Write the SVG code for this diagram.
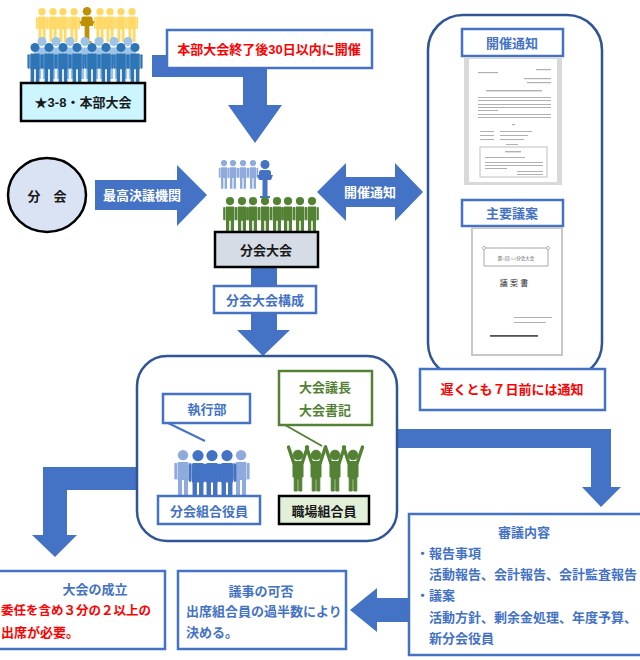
<svg xmlns="http://www.w3.org/2000/svg" xmlns:xlink="http://www.w3.org/1999/xlink" width="640" height="660" viewBox="0 0 640 660">
  <style>
    text { font-family: "Liberation Sans", "Noto Sans CJK JP", sans-serif; font-weight: bold; font-size: 13px; }
    .c { text-anchor: middle; dominant-baseline: central; }
    .l { dominant-baseline: central; }
    .blue { fill: #4472C4; }
    .red { fill: #FF0000; }
    .green { fill: #548235; }
    .dark { fill: #1A1A1A; }
    .white { fill: #FFFFFF; }
    .arrow { fill: #4472C4; }
    .frame { fill: #FFFFFF; stroke: #2F5597; stroke-width: 2.5; }
    .tag { fill: #FFFFFF; stroke: #4472C4; stroke-width: 2.5; }
    .tagg { fill: #FFFFFF; stroke: #548235; stroke-width: 2.5; }
    .base { stroke: #000000; stroke-width: 2.5; }
    .ln { fill: #B0B0B0; }
  </style>
  <defs>
    <!-- standing figure, origin at top centre, 40 units tall -->
    <g id="person">
      <circle cx="0" cy="4.3" r="4.3"/>
      <path d="M-3.6,10 H3.6 Q4.6,10 4.6,11.2 V25 H-4.6 V11.2 Q-4.6,10 -3.6,10 Z"/>
      <rect x="-7.2" y="10.6" width="2.2" height="14" rx="1.1"/>
      <rect x="5" y="10.6" width="2.2" height="14" rx="1.1"/>
      <rect x="-4.2" y="23" width="3.4" height="17" rx="0.8"/>
      <rect x="0.8" y="23" width="3.4" height="17" rx="0.8"/>
    </g>
    <!-- figure with both arms raised -->
    <g id="cheer">
      <circle cx="0" cy="10" r="4.8"/>
      <path d="M-5,18.5 Q-5,16.5 -3,16.5 H3 Q5,16.5 5,18.5 V32 H3.8 V46 H0.8 V34 H-0.8 V46 H-3.8 V32 H-5 Z"/>
      <path d="M-4.2,18 L-9.5,2 M4.2,18 L9.5,2" stroke-width="3.4" stroke-linecap="round" fill="none"/>
    </g>
    <!-- speaker at a lectern -->
    <g id="speaker">
      <circle cx="0" cy="4.5" r="4.5"/>
      <path d="M-6,12.5 Q-6,10 -3.5,10 H3.5 Q6,10 6,12.5 V16 H-6 Z"/>
      <path d="M-8,15 H8 L6,20 H2.5 V36 H5 V38 H-5 V36 H-2.5 V20 H-6 Z"/>
    </g>
  </defs>

  <!-- connectors -->
  <g id="connectors">
    <!-- head office meeting down to branch meeting -->
    <path class="arrow" d="M152,55 H267 V105 H282 L255,143 L228,105 H243 V77 H152 Z"/>
    <!-- branch to branch meeting -->
    <path class="arrow" d="M95,180 H177 V165 L207,195 L177,226 V210 H95 Z"/>
    <!-- notice both ways -->
    <path class="arrow" d="M317,192 L346,163 V177 H395 V163 L423,192 L395,221 V207 H346 V221 Z"/>
    <!-- branch meeting down to members -->
    <path class="arrow" d="M251,266 H277 V330 H290 L263,356 L237,330 H251 Z"/>
    <!-- members to quorum -->
    <path class="arrow" d="M137,467 V490 H67 V535 H77 L55,557 L32,535 H43 V467 Z"/>
    <!-- members to agenda -->
    <path class="arrow" d="M397,429 H611 V487 H621 L601,507 L582,487 H591 V448 H397 Z"/>
    <!-- agenda to resolution -->
    <path class="arrow" d="M409,598 V622 H377 V632 L350,610 L377,588 V598 Z"/>
  </g>

  <!-- head office meeting crowd -->
  <g id="head-office">
    <g fill="#FFD966">
      <use xlink:href="#person" transform="translate(42,8) scale(0.85)"/>
      <use xlink:href="#person" transform="translate(53,8) scale(0.85)"/>
      <use xlink:href="#person" transform="translate(63,8) scale(0.85)"/>
      <use xlink:href="#person" transform="translate(74,8) scale(0.85)"/>
      <use xlink:href="#person" transform="translate(100,8) scale(0.85)"/>
      <use xlink:href="#person" transform="translate(110,8) scale(0.85)"/>
      <use xlink:href="#person" transform="translate(121,8) scale(0.85)"/>
      <use xlink:href="#person" transform="translate(132,8) scale(0.85)"/>
    </g>
    <use xlink:href="#speaker" fill="#BF9000" transform="translate(87,7) scale(0.95)"/>
    <g fill="#9DC3E6">
      <use xlink:href="#person" transform="translate(42,37) scale(1.05)"/>
      <use xlink:href="#person" transform="translate(56,37) scale(1.05)"/>
      <use xlink:href="#person" transform="translate(70,37) scale(1.05)"/>
      <use xlink:href="#person" transform="translate(85,37) scale(1.05)"/>
      <use xlink:href="#person" transform="translate(99,37) scale(1.05)"/>
      <use xlink:href="#person" transform="translate(114,37) scale(1.05)"/>
      <use xlink:href="#person" transform="translate(128,37) scale(1.05)"/>
    </g>
    <g fill="#2E75B6">
      <use xlink:href="#person" transform="translate(35,43) scale(1.05)"/>
      <use xlink:href="#person" transform="translate(49,43) scale(1.05)"/>
      <use xlink:href="#person" transform="translate(63,43) scale(1.05)"/>
      <use xlink:href="#person" transform="translate(77,43) scale(1.05)"/>
      <use xlink:href="#person" transform="translate(92,43) scale(1.05)"/>
      <use xlink:href="#person" transform="translate(106,43) scale(1.05)"/>
      <use xlink:href="#person" transform="translate(121,43) scale(1.05)"/>
      <use xlink:href="#person" transform="translate(135,43) scale(1.05)"/>
    </g>
    <rect x="21" y="83" width="124" height="38" fill="#CCF5FF" class="base"/>
    <text x="83" y="102" class="c dark">★3-8・本部大会</text>
  </g>

  <!-- timing note -->
  <g id="timing-note">
    <rect x="167" y="30" width="205" height="38" class="tag"/>
    <text x="269" y="49" class="c red">本部大会終了後30日以内に開催</text>
  </g>

  <!-- branch -->
  <g id="branch">
    <ellipse cx="47" cy="195" rx="39" ry="37" fill="#DAE3F3" stroke="#000000" stroke-width="2.5"/>
    <text x="47" y="196" class="c dark">分　会</text>
  </g>
  <text x="142" y="195" class="c white">最高決議機関</text>
  <text x="370" y="192" class="c white">開催通知</text>

  <!-- branch meeting -->
  <g id="branch-meeting">
    <g fill="#8FAADC">
      <use xlink:href="#person" transform="translate(224,160) scale(0.72)"/>
      <use xlink:href="#person" transform="translate(233,160) scale(0.72)"/>
      <use xlink:href="#person" transform="translate(243,160) scale(0.72)"/>
      <use xlink:href="#person" transform="translate(253,160) scale(0.72)"/>
    </g>
    <use xlink:href="#speaker" fill="#4472C4" transform="translate(265,160) scale(1)"/>
    <g fill="#548235">
      <use xlink:href="#person" transform="translate(230,197) scale(0.95)"/>
      <use xlink:href="#person" transform="translate(242,197) scale(0.95)"/>
      <use xlink:href="#person" transform="translate(253,197) scale(0.95)"/>
      <use xlink:href="#person" transform="translate(265,197) scale(0.95)"/>
      <use xlink:href="#person" transform="translate(277,197) scale(0.95)"/>
      <use xlink:href="#person" transform="translate(288,197) scale(0.95)"/>
      <use xlink:href="#person" transform="translate(300,197) scale(0.95)"/>
      <use xlink:href="#person" transform="translate(312,197) scale(0.95)"/>
    </g>
    <rect x="215" y="232" width="103" height="35" fill="#D6DCE5" class="base"/>
    <text x="266" y="250" class="c dark">分会大会</text>
  </g>

  <!-- notice panel -->
  <g id="notice-panel">
    <rect x="428" y="15" width="174" height="363" rx="35" class="frame"/>
    <rect x="462" y="29" width="101" height="27" class="tag"/>
    <text x="512" y="43" class="c blue">開催通知</text>
    <!-- notice sheet -->
    <rect x="464" y="57" width="98" height="128" fill="#D9D9D9"/>
    <rect x="469" y="59" width="88" height="123" fill="#FFFFFF"/>
    <g class="ln">
      <rect x="536" y="69" width="15" height="1.2"/>
      <rect x="478" y="72" width="20" height="1.2"/>
      <rect x="524" y="78" width="27" height="1.2"/>
      <rect x="527" y="82" width="24" height="1.2"/>
      <rect x="486" y="90" width="56" height="1.4"/>
      <rect x="478" y="97" width="73" height="1"/>
      <rect x="478" y="100" width="73" height="1"/>
      <rect x="478" y="104" width="73" height="1"/>
      <rect x="478" y="107" width="73" height="1"/>
      <rect x="478" y="110" width="20" height="1"/>
      <rect x="478" y="114" width="73" height="1"/>
      <rect x="478" y="117" width="73" height="1"/>
      <rect x="512" y="124" width="3" height="1.2"/>
      <rect x="480" y="131" width="14" height="1"/>
      <rect x="500" y="131" width="32" height="1"/>
      <rect x="480" y="135" width="14" height="1"/>
      <rect x="500" y="135" width="28" height="1"/>
      <rect x="480" y="139" width="14" height="1"/>
      <rect x="500" y="139" width="24" height="1"/>
      <rect x="506" y="144" width="12" height="1"/>
    </g>
    <rect x="480" y="147" width="67" height="30" fill="#FFFFFF" stroke="#BFBFBF" stroke-width="1"/>
    <g class="ln">
      <rect x="505" y="151" width="16" height="1.4"/>
      <rect x="485" y="157" width="40" height="1"/>
      <rect x="485" y="162" width="58" height="1"/>
      <rect x="485" y="165" width="58" height="1"/>
      <rect x="485" y="168" width="22" height="1"/>
      <rect x="517" y="171" width="26" height="1"/>
      <rect x="517" y="174" width="26" height="1"/>
    </g>

    <rect x="462" y="200" width="101" height="26" class="tag"/>
    <text x="512" y="213" class="c blue">主要議案</text>
    <!-- agenda booklet -->
    <rect x="472" y="228" width="90" height="127" fill="#FFFFFF" stroke="#C8C8C8" stroke-width="2"/>
    <path d="M484,248 H548 V266 H484 Z" fill="#FFFFFF" stroke="#A6A6A6" stroke-width="1"/>
    <circle cx="484" cy="248" r="1.6" fill="#FFFFFF" stroke="#A6A6A6" stroke-width="0.8"/>
    <circle cx="548" cy="248" r="1.6" fill="#FFFFFF" stroke="#A6A6A6" stroke-width="0.8"/>
    <text x="516" y="258" class="c" style="font-size:4.5px;font-weight:normal;fill:#555555">第○回 ○○分会大会</text>
    <text x="514" y="283" class="c" style="font-size:8px;font-weight:normal;fill:#333333">議 案 書</text>
    <g class="ln">
      <rect x="514" y="317" width="38" height="1"/>
      <rect x="514" y="322" width="32" height="1"/>
    </g>
    <rect x="490" y="335" width="48" height="1.8" fill="#555555"/>
  </g>

  <!-- deadline note -->
  <g id="deadline-note">
    <rect x="420" y="369" width="185" height="41" class="tag"/>
    <text x="512" y="389" class="c red">遅くとも７日前には通知</text>
  </g>

  <!-- composition label -->
  <g id="composition-label">
    <rect x="214" y="286" width="102" height="27" class="tag"/>
    <text x="265" y="300" class="c blue">分会大会構成</text>
  </g>

  <!-- members panel -->
  <g id="members-panel">
    <rect x="137" y="356" width="260" height="185" rx="30" class="frame"/>
  </g>

  <g id="officers">
    <rect x="163" y="394" width="87" height="29" class="tag"/>
    <text x="207" y="409" class="c blue">執行部</text>
    <path d="M168,423 L205,441" stroke="#4472C4" stroke-width="2" fill="none"/>
    <use xlink:href="#person" fill="#8FAADC" transform="translate(183,450) scale(1.2)"/>
    <use xlink:href="#person" fill="#8FAADC" transform="translate(241,450) scale(1.2)"/>
    <use xlink:href="#person" fill="#4472C4" transform="translate(198,450) scale(1.3)"/>
    <use xlink:href="#person" fill="#4472C4" transform="translate(227,450) scale(1.3)"/>
    <use xlink:href="#person" fill="#4472C4" transform="translate(212,450) scale(1.3)"/>
    <rect x="158" y="496" width="102" height="28" class="tag"/>
    <text x="209" y="511" class="c blue">分会組合役員</text>
  </g>

  <g id="workplace-members">
    <rect x="279" y="371" width="93" height="54" class="tagg"/>
    <text x="325" y="387" class="c green">大会議長</text>
    <text x="325" y="410" class="c green">大会書記</text>
    <path d="M285,425 L322,446" stroke="#548235" stroke-width="2" fill="none"/>
    <g fill="#548235" stroke="#548235">
      <use xlink:href="#cheer" transform="translate(298,445)"/>
      <use xlink:href="#cheer" transform="translate(316,445)"/>
      <use xlink:href="#cheer" transform="translate(335,445)"/>
      <use xlink:href="#cheer" transform="translate(353,445)"/>
    </g>
    <rect x="279" y="496" width="90" height="28" fill="#E2F0D9" class="base"/>
    <text x="324" y="511" class="c dark">職場組合員</text>
  </g>

  <!-- quorum -->
  <g id="quorum">
    <rect x="-3" y="571" width="168" height="78" class="tag"/>
    <text x="95" y="589" class="c blue">大会の成立</text>
    <text x="1" y="611" class="l red" style="font-size:12.5px">委任を含め３分の２以上の</text>
    <text x="1" y="632" class="l red">出席が必要。</text>
  </g>

  <!-- resolution -->
  <g id="resolution">
    <rect x="178" y="571" width="168" height="78" class="tag"/>
    <text x="261" y="591" class="c blue">議事の可否</text>
    <text x="186" y="611" class="l blue">出席組合員の過半数により</text>
    <text x="186" y="632" class="l blue">決める。</text>
  </g>

  <!-- agenda items -->
  <g id="agenda">
    <rect x="409" y="514" width="236" height="141" class="tag"/>
    <text x="524" y="532" class="c blue">審議内容</text>
    <text x="416" y="553" class="l blue">・報告事項</text>
    <text x="429" y="574" class="l blue">活動報告、会計報告、会計監査報告</text>
    <text x="416" y="595" class="l blue">・議案</text>
    <text x="429" y="617" class="l blue">活動方針、剰余金処理、年度予算、</text>
    <text x="429" y="638" class="l blue">新分会役員</text>
  </g>
</svg>
